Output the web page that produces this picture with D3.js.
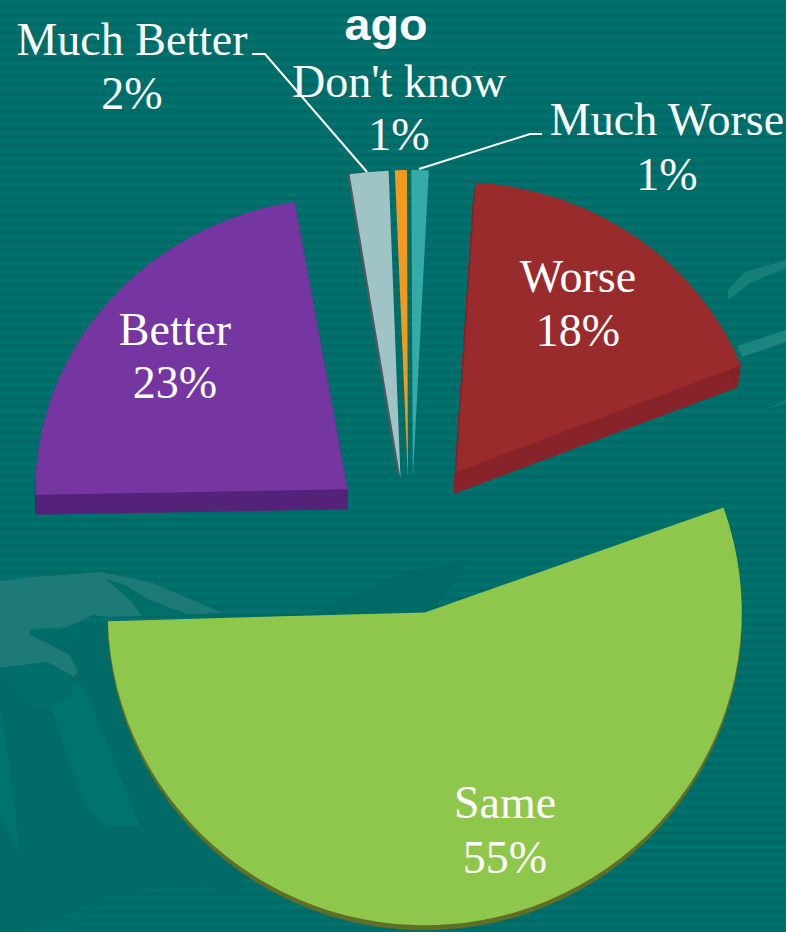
<!DOCTYPE html>
<html><head><meta charset="utf-8">
<script src="https://cdnjs.cloudflare.com/ajax/libs/d3/7.8.5/d3.min.js"></script>
<style>html,body{margin:0;padding:0;background:#006c67;overflow:hidden}svg{display:block}</style>
</head><body><svg id="c" width="786" height="932"></svg>
<script>
// data
const categories = ["Much Worse","Worse","Same","Better","Much Better","Don't know"];
const values = [1,18,55,23,2,1];
// styles
const topColors  = ["#34aba8","#9a2b2d","#8fc74d","#7536a1","#a0c4c6","#f39a1e"];
const sideColors = ["#2a8f8c","#88232a","#5f6f26","#55227a","#55595c","#c97f18"];
const radiusX = [312,306,317,312,312,312];
const radiusY = [308,290,313,292,308,308];
const depthX  = [0,-3,0,0,-2,0];
const depthY  = [0,22,5,20,1,0];
const explodeY= [57,79,79,73,57,57];
const twist   = [-1.5,-1,1,0.75,0.4,-0.5];
const inset   = [0.2,0,0,0.75,0,0.7];
const explodeX = 78.8, cx = 409, cy = 535;
const labelPos = [
  {x:667,y:135,y2:190},{x:578,y:292,y2:346},{x:505,y:818,y2:873},
  {x:175,y:345,y2:398},{x:132,y:55,y2:109},{x:399,y:97,y2:150}];

const W=786,H=932, svg=d3.select("#c"), defs=svg.append("defs");
const pat=defs.append("pattern").attr("id","st").attr("patternUnits","userSpaceOnUse").attr("width",20).attr("height",8.7);
pat.append("rect").attr("width",20).attr("height",8.7).attr("fill","#00716c");
pat.append("rect").attr("y",4.6).attr("width",20).attr("height",4.1).attr("fill","#006a66");
svg.append("rect").attr("width",W).attr("height",H).attr("fill","url(#st)");

// decorative background shapes
const bg=[
 ["#006b67","M0,640 L0,932 L30,932 L110,895 L190,885 L240,895 L260,620 L120,620 Z"],
 ["#006a66","M310,615 L400,573 L470,560 L430,615 Z"],
 ["#006e6a","M30,932 L70,932 L110,900 L190,888 L130,895 Z"],
 ["#1e7a76","M0,581 L33,577 L100,572 L150,582 L223,613 L108,617 L93,615 L67,627 L30,629 L30,635 L47,643 L70,655 L78,672 L72,678 L47,662 L0,668 Z"],
 ["#006e69","M105,579 L125,585 L150,600 L187,614 L142,616 L128,598 Z"],
 ["#006f6b","M0,668 L47,662 L72,675 L70,690 L50,705 L30,705 Z"],
 ["#00736e","M72,680 L85,690 L140,825 L140,825 L105,827 L85,805 L50,705 L70,697 Z"],
 ["#00736e","M0,710 L5,730 L20,855 L0,815 Z"],
 ["#177f7a","M728,300 L728,290 L745,272 L786,260 L786,268 L750,283 Z"],
 ["#1b8680","M737,346 L786,330 L786,342 L742,357 Z"],
 ["#0a7a75","M763,410 L786,400 L786,404 Z"]
];
svg.selectAll("path.bg").data(bg).join("path").attr("class","bg").attr("fill",d=>d[0]).attr("d",d=>d[1]);

// pie
const deg=Math.PI/180;
const pie=d3.pie().sort(null).startAngle(1*deg).endAngle(361*deg);
const arcs=pie(values);
const arc=d3.arc().innerRadius(0).outerRadius(1);
const order=[4,5,0,3,1,2];
const g=svg.append("g");
order.forEach(i=>{
  const a=arcs[i], mid=(a.startAngle+a.endAngle)/2;
  const ax=cx+explodeX*Math.sin(mid), ay=cy-explodeY[i]*Math.cos(mid);
  const d=arc({startAngle:a.startAngle+(twist[i]+inset[i])*deg,endAngle:a.endAngle+(twist[i]-inset[i])*deg});
  const steps=Math.max(Math.abs(depthY[i]),Math.abs(depthX[i]));
  const s=g.append("g").attr("class","slice");
  s.selectAll("path.side").data(d3.range(1,steps+1)).join("path").attr("class","side")
    .attr("d",d).attr("fill",sideColors[i])
    .attr("transform",k=>`translate(${ax+depthX[i]*k/steps},${ay+depthY[i]*k/steps}) scale(${radiusX[i]},${radiusY[i]})`);
  s.append("path").attr("class","top").attr("d",d).attr("fill",topColors[i])
    .attr("transform",`translate(${ax},${ay}) scale(${radiusX[i]},${radiusY[i]})`);
});

// leader lines
const line=d3.line();
const leaders=[[[252,54],[265,54],[367,172]],[[542,134],[530,134],[419,169]]];
svg.selectAll("path.lead").data(leaders).join("path").attr("class","lead")
  .attr("d",line).attr("fill","none").attr("stroke","#fff").attr("stroke-width",2);

// labels
const font="'Liberation Serif',serif";
const t=svg.append("g").attr("fill","#fff").attr("font-family",font).attr("font-size",46).attr("text-anchor","middle");
categories.forEach((c,i)=>{
  t.append("text").attr("x",labelPos[i].x).attr("y",labelPos[i].y).text(c);
  t.append("text").attr("x",labelPos[i].x).attr("y",labelPos[i].y2).text(values[i]+"%");
});
svg.append("text").attr("x",386).attr("y",40).attr("text-anchor","middle").attr("fill","#fff")
  .attr("font-family","'Liberation Sans',Arial,sans-serif").attr("font-weight",700).attr("font-size",44)
  .attr("textLength",83).attr("lengthAdjust","spacingAndGlyphs").text("ago");
</script></body></html>
